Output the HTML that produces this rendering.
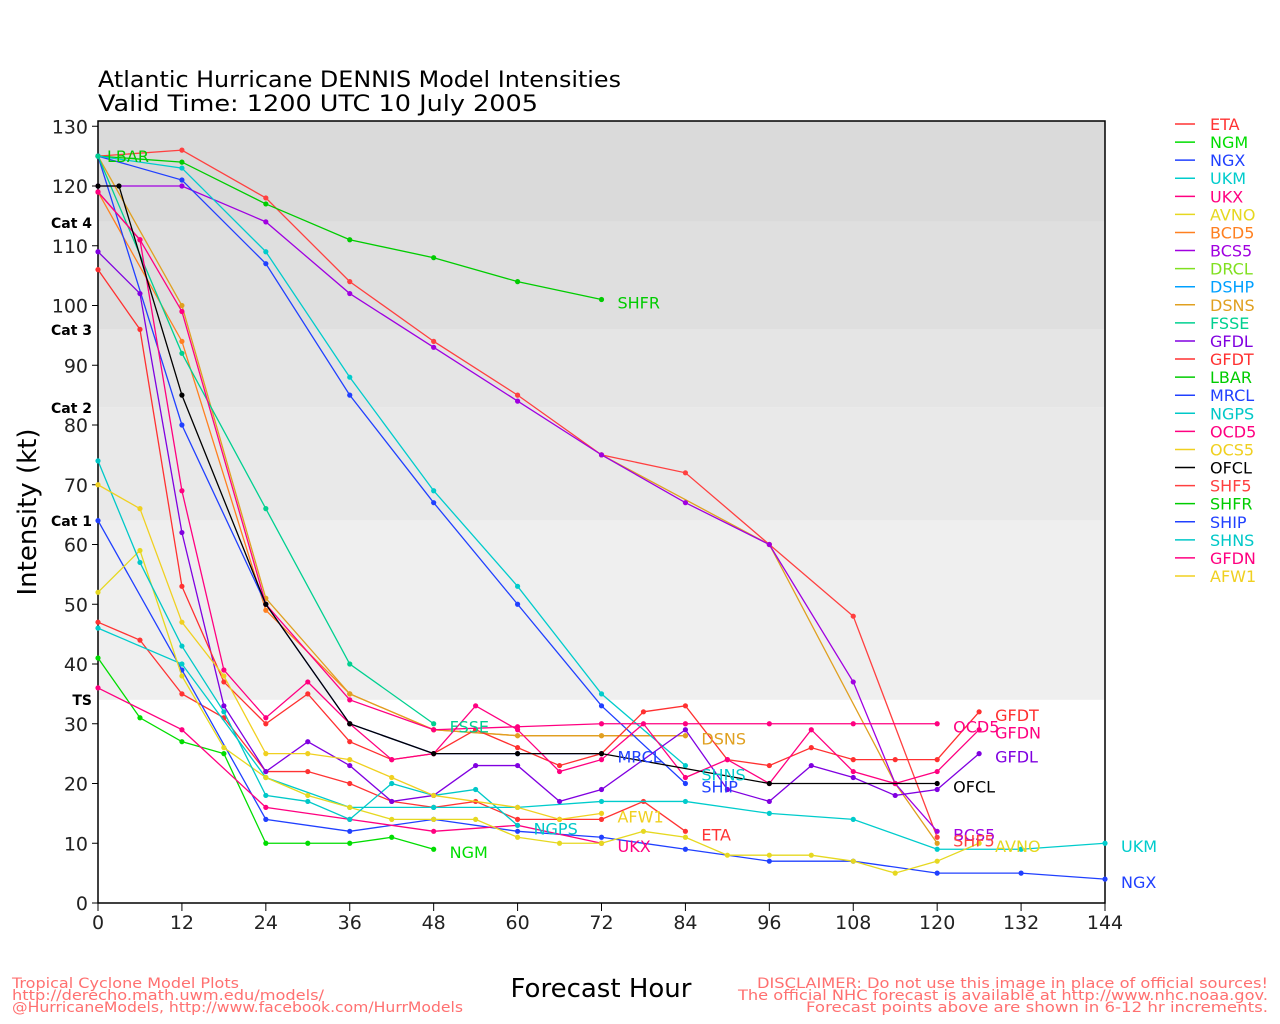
<!DOCTYPE html><html><head><meta charset="utf-8"><style>body{margin:0;background:#fff}svg{display:block}text{font-family:"DejaVu Sans","Liberation Sans",sans-serif}</style></head><body>
<svg id="s" width="1280" height="1024" xmlns="http://www.w3.org/2000/svg"></svg>
<script>
const X=h=>98+h*1007/144, Y=v=>903-v*5.975;
let o='';
const bands=[[131,114,'#dadada'],[114,96,'#dfdfdf'],[96,83,'#e5e5e5'],[83,64,'#e9e9e9'],[64,34,'#efefef']];
bands.forEach(b=>{let t=Math.max(121,Y(b[0]));o+=`<rect x="98" y="${t}" width="1007" height="${Y(b[1])-t}" fill="${b[2]}"/>`});
o+=`<rect x="98" y="121" width="1007" height="782" fill="none" stroke="#000" stroke-width="1.5"/>`;
for(let v=0;v<=130;v+=10){o+=`<line x1="92" x2="98" y1="${Y(v)}" y2="${Y(v)}" stroke="#000"/><text x="88" y="${Y(v)+7}" font-size="19" text-anchor="end" fill="#222">${v}</text>`;}
for(let h=0;h<=144;h+=12){o+=`<line x1="${X(h)}" x2="${X(h)}" y1="903" y2="911" stroke="#000"/><text x="${X(h)}" y="929" font-size="19" text-anchor="middle" fill="#222">${h}</text>`;}
[['Cat 4',223],['Cat 3',330],['Cat 2',408],['Cat 1',521],['TS',700]].forEach(c=>o+=`<text x="92" y="${c[1]+5}" font-size="14" font-weight="bold" text-anchor="end">${c[0]}</text>`);
const S=[
['ETA','#ff3333',[[0,47],[6,44],[12,35],[18,31],[24,22],[30,22],[36,20],[42,17],[48,16],[54,17],[60,14],[66,14],[72,14],[78,17],[84,12]]],
['NGM','#00dd00',[[0,41],[6,31],[12,27],[18,25],[24,10],[30,10],[36,10],[42,11],[48,9]]],
['NGX','#2040ff',[[0,64],[12,39],[24,14],[36,12],[48,14],[60,12],[72,11],[84,9],[96,7],[108,7],[120,5],[132,5],[144,4]]],
['UKM','#00cccc',[[0,46],[12,40],[24,21],[36,16],[48,16],[60,16],[72,17],[84,17],[96,15],[108,14],[120,9],[132,9],[144,10]]],
['UKX','#ff0080',[[0,36],[12,29],[24,16],[36,14],[48,12],[60,13],[72,10]]],
['AVNO','#e6d820',[[0,52],[6,59],[12,38],[18,26],[24,21],[30,18],[36,16],[42,14],[48,14],[54,14],[60,11],[66,10],[72,10],[78,12],[84,11],[90,8],[96,8],[102,8],[108,7],[114,5],[120,7],[126,10]]],
['BCD5','#ff8020',[[0,119],[12,94],[24,49],[36,35],[48,29],[60,28],[72,28],[84,28]]],
['DSNS','#e0a020',[[0,125],[12,100],[24,51],[36,35],[48,29],[60,28],[72,28],[84,28]]],
['SHF5','#ff4040',[[0,125],[12,126],[24,118],[36,104],[48,94],[60,85],[72,75],[84,72],[96,60],[108,48],[120,11]]],
['DSHPx','#e0a020',[[72,75],[96,60],[114,20],[120,10]]],
['SHFR','#00cc00',[[0,125],[12,124],[24,117],[36,111],[48,108],[60,104],[72,101]]],
['BCS5','#a000e0',[[0,120],[12,120],[24,114],[36,102],[48,93],[60,84],[72,75],[84,67],[96,60],[108,37],[114,20],[120,12]]],
['SHIP','#2040ff',[[0,125],[12,121],[24,107],[36,85],[48,67],[60,50],[72,33],[84,20]]],
['SHNS','#00cccc',[[0,125],[12,123],[24,109],[36,88],[48,69],[60,53],[72,35],[84,23]]],
['MRCL','#2040ff',[[0,125],[12,80],[24,50],[36,30],[48,25],[60,25],[72,25]]],
['FSSE','#00d090',[[0,125],[12,92],[24,66],[36,40],[48,30]]],
['NGPS','#00c8c8',[[0,74],[6,57],[12,43],[18,32],[24,18],[30,17],[36,14],[42,20],[48,18],[54,19],[60,13]]],
['GFDL','#8000e0',[[0,109],[6,102],[12,62],[18,33],[24,22],[30,27],[36,23],[42,17],[48,18],[54,23],[60,23],[66,17],[72,19],[84,29],[90,19],[96,17],[102,23],[108,21],[114,18],[120,19],[126,25]]],
['GFDT','#ff3030',[[0,106],[6,96],[12,53],[18,37],[24,30],[30,35],[36,27],[42,24],[48,25],[54,29],[60,26],[66,23],[72,25],[78,32],[84,33],[90,24],[96,23],[102,26],[108,24],[114,24],[120,24],[126,32]]],
['GFDN','#ff0080',[[0,119],[6,111],[12,69],[18,39],[24,31],[30,37],[36,30],[42,24],[48,25],[54,33],[60,29],[66,22],[72,24],[78,30],[84,21],[90,24],[96,20],[102,29],[108,22],[114,20],[120,22],[126,29]]],
['OCD5','#ff0080',[[0,119],[6,111],[12,99],[24,50],[36,34],[48,29],[60,29.5],[72,30],[84,30],[96,30],[108,30],[120,30]]],
['AFW1','#f0d020',[[0,70],[6,66],[12,47],[18,38],[24,25],[30,25],[36,24],[42,21],[48,18],[60,16],[66,14],[72,15]]],
['OFCL','#000000',[[0,120],[3,120],[12,85],[24,50],[36,30],[48,25],[60,25],[72,25],[96,20],[120,20]]]
];
S.forEach(s=>{o+=`<polyline fill="none" stroke="${s[1]}" stroke-width="1.3" points="${s[2].map(p=>X(p[0])+','+Y(p[1])).join(' ')}"/>`;
s[2].forEach(p=>o+=`<circle cx="${X(p[0])}" cy="${Y(p[1])}" r="2.6" fill="${s[1]}"/>`);});
const L=[['LBAR',1,125,'#00cc00'],['SHFR',74,100.5,'#00cc00'],['FSSE',50,29.5,'#00d090'],['NGM',50,8.5,'#00dd00'],['NGPS',62,12.5,'#00c8c8'],['MRCL',74,24.5,'#2040ff'],['AFW1',74,14.5,'#f0d020'],['UKX',74,9.5,'#ff0080'],['DSNS',86,27.5,'#e0a020'],['SHNS',86,21.5,'#00cccc'],['SHIP',86,19.5,'#2040ff'],['ETA',86,11.5,'#ff3333'],['OCD5',122,29.5,'#ff0080'],['OFCL',122,19.5,'#000'],['BCS5',122,11.5,'#a000e0'],['SHF5',122,10.5,'#ff4040'],['AVNO',128,9.5,'#e6d820'],['GFDT',128,31.5,'#ff3030'],['GFDN',128,28.5,'#ff0080'],['GFDL',128,24.5,'#8000e0'],['UKM',146,9.5,'#00cccc'],['NGX',146,3.5,'#2040ff']];
L.forEach(l=>o+=`<text x="${X(l[1])+2}" y="${Y(l[2])+6}" font-size="16" fill="${l[3]}">${l[0]}</text>`);
const G=[['ETA','#ff3333'],['NGM','#00dd00'],['NGX','#2040ff'],['UKM','#00cccc'],['UKX','#ff0080'],['AVNO','#e6d820'],['BCD5','#ff8020'],['BCS5','#a000e0'],['DRCL','#80e020'],['DSHP','#00a0ff'],['DSNS','#e0a020'],['FSSE','#00d090'],['GFDL','#8000e0'],['GFDT','#ff3030'],['LBAR','#00cc00'],['MRCL','#2040ff'],['NGPS','#00c8c8'],['OCD5','#ff0080'],['OCS5','#f0d020'],['OFCL','#000000'],['SHF5','#ff4040'],['SHFR','#00cc00'],['SHIP','#2040ff'],['SHNS','#00c8c8'],['GFDN','#ff0080'],['AFW1','#f0d020']];
G.forEach((g,i)=>{let y=124+i*18.08;o+=`<line x1="1175" x2="1195" y1="${y}" y2="${y}" stroke="${g[1]}" stroke-width="1.5"/><text x="1210" y="${y+6}" font-size="16" fill="${g[1]}">${g[0]}</text>`;});
o+=`<text x="98" y="87" font-size="22" textLength="523" lengthAdjust="spacingAndGlyphs">Atlantic Hurricane DENNIS Model Intensities</text><text x="98" y="111" font-size="22" textLength="440" lengthAdjust="spacingAndGlyphs">Valid Time: 1200 UTC 10 July 2005</text>`;
o+=`<text transform="translate(36,512) rotate(-90)" font-size="26" text-anchor="middle">Intensity (kt)</text><text x="601" y="997" font-size="26" text-anchor="middle">Forecast Hour</text>`;
const f='font-family="Liberation Mono,monospace" font-size="14" fill="#ff7070" lengthAdjust="spacingAndGlyphs"';
o+=`<text x="12" y="988" ${f} textLength="227">Tropical Cyclone Model Plots</text><text x="12" y="1000" ${f} textLength="312">http://derecho.math.uwm.edu/models/</text><text x="12" y="1012" ${f} textLength="451">@HurricaneModels, http://www.facebook.com/HurrModels</text>`;
o+=`<text x="757" y="988" ${f} textLength="511">DISCLAIMER: Do not use this image in place of official sources!</text><text x="738" y="1000" ${f} textLength="530">The official NHC forecast is available at http://www.nhc.noaa.gov.</text><text x="806" y="1012" ${f} textLength="462">Forecast points above are shown in 6-12 hr increments.</text>`;
document.getElementById('s').innerHTML=o;
</script></body></html>
